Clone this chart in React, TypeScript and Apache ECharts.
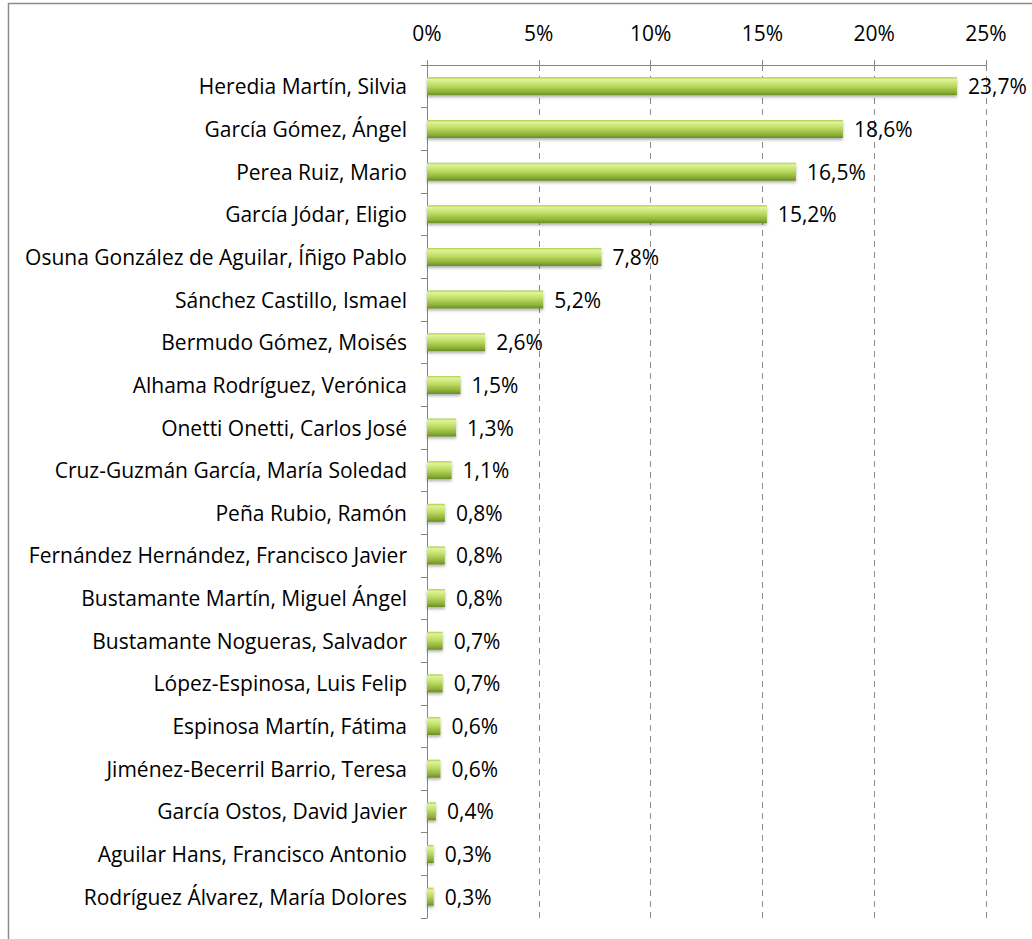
import React, { useEffect, useRef } from "react";
import * as echarts from "echarts";

const names = [
  "Heredia Martín, Silvia",
  "García Gómez, Ángel",
  "Perea Ruiz, Mario",
  "García Jódar, Eligio",
  "Osuna González de Aguilar, Íñigo Pablo",
  "Sánchez Castillo, Ismael",
  "Bermudo Gómez, Moisés",
  "Alhama Rodríguez, Verónica",
  "Onetti Onetti, Carlos José",
  "Cruz-Guzmán García, María Soledad",
  "Peña Rubio, Ramón",
  "Fernández Hernández, Francisco Javier",
  "Bustamante Martín, Miguel Ángel",
  "Bustamante Nogueras, Salvador",
  "López-Espinosa, Luis Felip",
  "Espinosa Martín, Fátima",
  "Jiménez-Becerril Barrio, Teresa",
  "García Ostos, David Javier",
  "Aguilar Hans, Francisco Antonio",
  "Rodríguez Álvarez, María Dolores",
];

const shares = [23.7, 18.6, 16.5, 15.2, 7.8, 5.2, 2.6, 1.5, 1.3, 1.1, 0.8, 0.8, 0.8, 0.7, 0.7, 0.6, 0.6, 0.4, 0.3, 0.3];

const FONT = "'Open Sans', 'Noto Sans', sans-serif";
const FS = 21;

export default function App() {
  const ref = useRef<HTMLDivElement>(null);
  useEffect(() => {
    if (!ref.current) return;
    const chart = echarts.init(ref.current, undefined, { renderer: "svg" });
    const barColor = new echarts.graphic.LinearGradient(0, 0, 0, 1, [
      { offset: 0, color: "#a9c94c" },
      { offset: 0.12, color: "#def598" },
      { offset: 0.45, color: "#bedc62" },
      { offset: 0.8, color: "#8fb23a" },
      { offset: 1, color: "#6b8c25" },
    ]);
    chart.setOption({
      animation: false,
      backgroundColor: "#ffffff",
      graphic: [
        {
          type: "rect",
          shape: { x: 8.5, y: 3.5, width: 1100, height: 1100 },
          style: { fill: "none", stroke: "#8c8c8c", lineWidth: 1.5 },
          silent: true,
        },
      ],
      grid: { left: 427, right: 46, top: 65, bottom: 21, containLabel: false },
      xAxis: {
        type: "value",
        position: "top",
        min: 0,
        max: 25,
        interval: 5,
        axisLine: { show: true, lineStyle: { color: "#868686", width: 1 } },
        axisTick: { show: true, length: 5, lineStyle: { color: "#868686" } },
        axisLabel: {
          formatter: "{value}%",
          color: "#000",
          fontSize: FS,
          fontFamily: FONT,
          margin: 22,
        },
        splitLine: {
          show: true,
          lineStyle: { color: "#8a8a8a", type: [6, 5], width: 1 },
        },
      },
      yAxis: {
        type: "category",
        inverse: true,
        data: names,
        axisLine: { show: true, lineStyle: { color: "#868686", width: 1 } },
        axisTick: { show: true, length: 6, lineStyle: { color: "#868686" } },
        axisLabel: {
          color: "#000",
          fontSize: FS,
          fontFamily: FONT,
          margin: 20,
        },
        splitLine: { show: false },
      },
      series: [
        {
          type: "bar",
          data: shares,
          barWidth: 18,
          itemStyle: {
            color: barColor,
            shadowColor: "rgba(0,0,0,0.3)",
            shadowBlur: 3,
            shadowOffsetY: 2,
          },
          label: {
            show: true,
            position: "right",
            distance: 11,
            color: "#000",
            fontSize: FS,
            fontFamily: FONT,
            formatter: (p: any) => p.value.toFixed(1).replace(".", ",") + "%",
          },
        },
      ],
    });
    return () => chart.dispose();
  }, []);
  return (
    <div
      ref={ref}
      style={{ position: "absolute", left: 0, top: 0, width: 1032, height: 939 }}
    />
  );
}
